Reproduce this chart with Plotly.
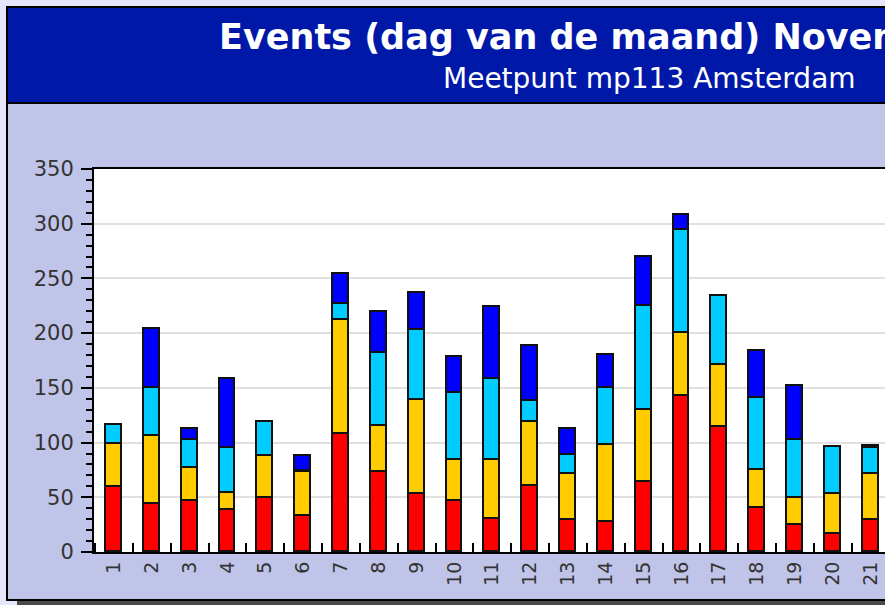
import plotly.graph_objects as go

# ---- data ----
days = [1, 2, 3, 4, 5, 6, 7, 8, 9, 10, 11, 12, 13, 14, 15, 16, 17, 18, 19, 20, 21]
day_labels = ["1", "2", "3", "4", "5", "6", "7", "8", "9", "10", "11",
              "12", "13", "14", "15", "16", "17", "18", "19", "20", "21"]
red_vals = [59, 44, 47, 38, 49, 33, 108, 73, 53, 47, 30, 60, 29, 27, 64, 143, 114, 40, 25, 16, 29]
yellow_vals = [40, 62, 30, 16, 39, 40, 104, 42, 86, 37, 54, 59, 42, 71, 66, 57, 57, 35, 24, 37, 42]
cyan_vals = [17, 44, 25, 41, 31, 1, 15, 67, 64, 61, 74, 19, 18, 52, 95, 94, 63, 66, 53, 43, 24]
blue_vals = [0, 54, 10, 63, 0, 14, 27, 37, 34, 33, 66, 50, 23, 30, 45, 14, 0, 43, 50, 0, 2]
y_ticks = [0, 50, 100, 150, 200, 250, 300, 350]

series = [
    ("Categorie 1", red_vals, "#FF0000"),
    ("Categorie 2", yellow_vals, "#FFCC00"),
    ("Categorie 3", cyan_vals, "#00CCFF"),
    ("Categorie 4", blue_vals, "#0000FF"),
]

W, H = 885, 605
L, R, T, B = 94, 0, 169, 53
PW = W - L - R
PH = H - T - B


def px(x):
    return (x - L) / PW


def py(y):
    return (H - B - y) / PH


fig = go.Figure()
for name, vals, col in series:
    fig.add_trace(go.Bar(
        x=days, y=vals, name=name, width=0.42,
        marker=dict(color=col, line=dict(color="#111111", width=1.8)),
    ))

shapes = [
    # drop shadow
    dict(type="rect", xref="paper", yref="paper", x0=px(17), x1=px(900), y0=py(600), y1=py(612),
         fillcolor="#4a4a4a", line=dict(width=0), layer="below"),
    # lavender panel
    dict(type="rect", xref="paper", yref="paper", x0=px(7), x1=px(900), y0=py(600), y1=py(7),
         fillcolor="#C0C4E8", line=dict(color="#000000", width=2), layer="below"),
    # title band
    dict(type="rect", xref="paper", yref="paper", x0=px(7), x1=px(900), y0=py(103), y1=py(7),
         fillcolor="#0018A8", line=dict(color="#000000", width=2), layer="below"),
    # white plot area
    dict(type="rect", xref="paper", yref="paper", x0=0, x1=1, y0=0, y1=1,
         fillcolor="#FFFFFF", line=dict(width=0), layer="below"),
]

annotations = [
    dict(text="<b>Events (dag van de maand) November</b>", xref="paper", yref="paper",
         x=px(217), y=py(37), xanchor="left", yanchor="middle", showarrow=False,
         font=dict(family="DejaVu Sans", size=35, color="#FFFFFF")),
    dict(text="Meetpunt mp113 Amsterdam", xref="paper", yref="paper",
         x=px(441), y=py(78), xanchor="left", yanchor="middle", showarrow=False,
         font=dict(family="DejaVu Sans", size=28, color="#FFFFFF")),
]

fig.update_layout(
    width=W, height=H, autosize=False,
    margin=dict(l=L, r=R, t=T, b=B, pad=0),
    paper_bgcolor="#E6E6FA", plot_bgcolor="rgba(0,0,0,0)",
    barmode="stack", bargap=0, showlegend=False,
    shapes=shapes, annotations=annotations,
    font=dict(family="DejaVu Sans", color="#333333"),
)

fig.update_xaxes(
    range=[0.471, 21.38], tickmode="array", tickvals=days, ticktext=day_labels,
    tickangle=-90, ticks="", tickfont=dict(size=19, color="#333333"),
    showline=True, linecolor="#000000", linewidth=2, mirror=True,
    showgrid=False, zeroline=False,
    minor=dict(tick0=0.5, dtick=1, ticks="inside", ticklen=9, tickwidth=1.5, tickcolor="#000000"),
)
fig.update_yaxes(
    range=[0, 350], tickmode="array", tickvals=y_ticks, ticks="outside", ticklen=11,
    tickwidth=1.5, tickcolor="#000000", tickfont=dict(size=21, color="#333333"),
    ticklabelstandoff=3,
    showline=True, linecolor="#000000", linewidth=2, mirror=False,
    showgrid=True, gridcolor="#E0E0E0", gridwidth=2, zeroline=False,
    minor=dict(tick0=0, dtick=10, ticks="outside", ticklen=6, tickwidth=1.5,
               tickcolor="#000000", showgrid=False),
)

fig.write_html(
    "out.html",
    config={"displayModeBar": False},
    post_script="document.body.style.margin='0';document.body.style.overflow='hidden';",
)
